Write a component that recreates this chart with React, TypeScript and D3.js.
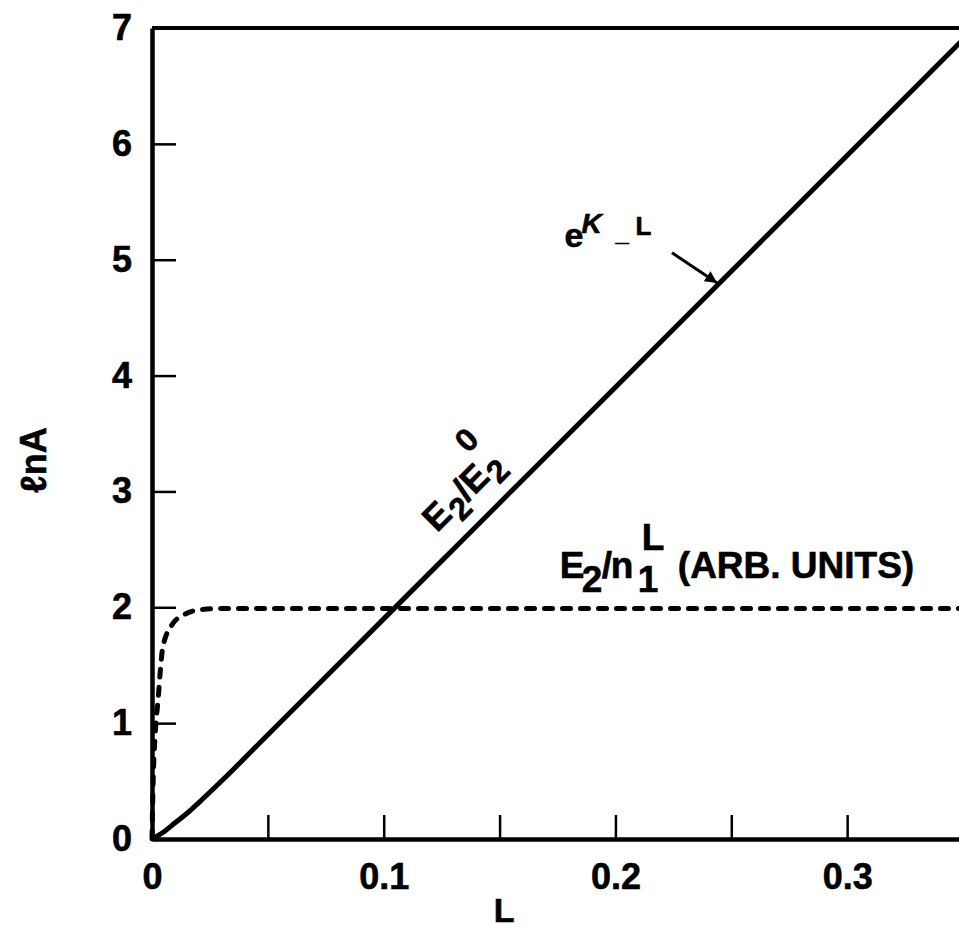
import React, { useEffect, useRef } from 'react';
import * as d3 from 'd3';

// L values and ln A for the solid curve (E2/E2^0, e^{K_-L})
const solidL = [0, 0.005, 0.01, 0.015, 0.02, 0.03, 0.05, 0.1, 0.2, 0.3, 0.35];
const solidLnA = [0, 0.06, 0.14, 0.22, 0.31, 0.5, 0.9, 1.9, 3.9, 5.9, 6.9];

// dashed curve E2/n1^L (arb. units)
const dashL = [0, 0.0005, 0.0013, 0.0027, 0.0035, 0.0047, 0.009, 0.0133, 0.021, 0.03, 0.35];
const dashLnA = [0, 0.5, 0.88, 1.22, 1.43, 1.66, 1.86, 1.93, 1.98, 1.99, 1.99];

const yTicks = [0, 1, 2, 3, 4, 5, 6, 7];
const xTicks = [0, 0.05, 0.1, 0.15, 0.2, 0.25, 0.3, 0.35];
const xTickLabels: Record<string, string> = { '0': '0', '0.1': '0.1', '0.2': '0.2', '0.3': '0.3' };

const FONT = "'Liberation Sans', Arial, Helvetica, sans-serif";

const App = () => {
  const svgRef = useRef<SVGSVGElement>(null);

  useEffect(() => {
    const w = 959;
    const h = 928;
    const svg = d3.select(svgRef.current).attr('width', w).attr('height', h);
    svg.selectAll('*').remove();

    const xScale = d3.scaleLinear().domain([0, 0.35]).range([152, 963]);
    const yScale = d3.scaleLinear().domain([0, 7]).range([839, 28]);

    svg
      .append('defs')
      .append('marker')
      .attr('id', 'arrow')
      .attr('viewBox', '0 0 10 10')
      .attr('refX', 10)
      .attr('refY', 5)
      .attr('markerWidth', 6)
      .attr('markerHeight', 4)
      .attr('markerUnits', 'strokeWidth')
      .attr('orient', 'auto')
      .append('path')
      .attr('d', 'M0,0 L10,5 L0,10 z')
      .attr('fill', '#000');

    // top border
    svg
      .append('line')
      .attr('x1', xScale(0))
      .attr('x2', xScale(0.35))
      .attr('y1', yScale(7))
      .attr('y2', yScale(7))
      .attr('stroke', '#000')
      .attr('stroke-width', 4);

    const yAxis = d3
      .axisLeft(yScale)
      .tickValues(yTicks)
      .tickSizeInner(-24)
      .tickSizeOuter(0)
      .tickPadding(20)
      .tickFormat((d) => String(d));

    const xAxis = d3
      .axisBottom(xScale)
      .tickValues(xTicks)
      .tickSizeInner(-24)
      .tickSizeOuter(0)
      .tickPadding(24)
      .tickFormat((d) => xTickLabels[String(+d)] ?? '');

    const gy = svg.append('g').attr('transform', `translate(${xScale(0)},0)`).call(yAxis);
    const gx = svg.append('g').attr('transform', `translate(0,${yScale(0)})`).call(xAxis);

    [gx, gy].forEach((g) => {
      g.select('.domain').attr('stroke', '#000').attr('stroke-width', 4.5);
      g.selectAll('.tick line').attr('stroke', '#000').attr('stroke-width', 2.5);
      g.selectAll('.tick text')
        .attr('fill', '#000')
        .attr('stroke', '#000')
        .attr('stroke-width', 0.6)
        .style('font-family', FONT)
        .style('font-weight', 'bold')
        .style('font-size', '36px');
    });

    const line = d3
      .line<[number, number]>()
      .x((d) => xScale(d[0]))
      .y((d) => yScale(d[1]))
      .curve(d3.curveMonotoneX);

    const solid = solidL.map((v, i) => [v, solidLnA[i]] as [number, number]);
    const dashed = dashL.map((v, i) => [v, dashLnA[i]] as [number, number]);

    svg
      .append('path')
      .attr('d', line(solid))
      .attr('fill', 'none')
      .attr('stroke', '#000')
      .attr('stroke-width', 5);

    svg
      .append('path')
      .attr('d', line(dashed))
      .attr('fill', 'none')
      .attr('stroke', '#000')
      .attr('stroke-width', 5)
      .attr('stroke-linecap', 'round')
      .attr('stroke-dasharray', '8,10');

    const txt = (g: any, s: string, x: number, y: number, size = 36, italic = false) =>
      g
        .append('text')
        .attr('x', x)
        .attr('y', y)
        .attr('stroke', '#000')
        .attr('stroke-width', 0.6)
        .style('font-family', FONT)
        .style('font-weight', 'bold')
        .style('font-style', italic ? 'italic' : 'normal')
        .style('font-size', `${size}px`)
        .text(s);

    // axis titles
    txt(svg, 'L', xScale(0.152), 922, 34).attr('text-anchor', 'middle');
    txt(svg, 'ℓnA', 0, 0, 36)
      .attr('text-anchor', 'middle')
      .attr('transform', `translate(46,${yScale(3.27)}) rotate(-90)`);

    // e^{K_-L} label with arrow
    const gk = svg.append('g').attr('transform', `translate(${xScale(0.178)},${yScale(5.11)})`);
    txt(gk, 'e', 0, 0, 34);
    txt(gk, 'K', 17, -14, 28, true);
    txt(gk, '_', 51, -6, 24);
    txt(gk, 'L', 71, -12, 26);
    svg
      .append('line')
      .attr('x1', xScale(0.2244))
      .attr('y1', yScale(5.06))
      .attr('x2', xScale(0.2439))
      .attr('y2', yScale(4.8))
      .attr('stroke', '#000')
      .attr('stroke-width', 3)
      .attr('marker-end', 'url(#arrow)');

    // E2/E2^0 along the solid line
    const ge = svg
      .append('g')
      .attr('transform', `translate(${xScale(0.123)},${yScale(2.64)}) rotate(-45)`);
    txt(ge, 'E', 0, 0, 36);
    txt(ge, '2', 25, 10, 32);
    txt(ge, '/', 43, 0, 36);
    txt(ge, 'E', 53, 0, 36);
    txt(ge, '2', 78, 10, 32);
    txt(ge, '0', 78, -34, 32);

    // E2/n1^L (ARB. UNITS)
    const gn = svg.append('g').attr('transform', `translate(${xScale(0.176)},${yScale(2.25)})`);
    txt(gn, 'E', 0, 0, 37);
    txt(gn, '2', 22, 14, 37);
    txt(gn, '/', 42, 0, 37);
    txt(gn, 'n', 51, 0, 37);
    txt(gn, '1', 78, 14, 37);
    txt(gn, 'L', 82, -28, 37);
    txt(gn, '(ARB. UNITS)', 118, 0, 37);
  }, []);

  return (
    <svg
      ref={svgRef}
      style={{ position: 'absolute', left: 0, top: 0, background: '#fff', display: 'block' }}
    ></svg>
  );
};

export default App;
